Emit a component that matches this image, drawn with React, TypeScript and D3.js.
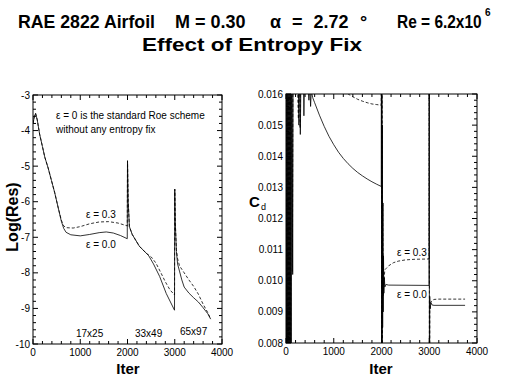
import React from "react";
import * as d3 from "d3";

// ---------- data ----------
// Left panel: Log(Res) vs Iter
const resEps00: [number, number][] = [
  [0, -3.8], [30, -3.6], [55, -3.52], [90, -3.7], [140, -4.1], [200, -4.45], [250, -4.75],
  [320, -5.05], [390, -5.4], [460, -5.75], [530, -6.15], [600, -6.55], [650, -6.75], [700, -6.86],
  [800, -6.93], [1000, -6.96], [1200, -6.92], [1400, -6.87], [1550, -6.85], [1700, -6.88],
  [1850, -6.95], [1995, -7.04], [2000, -4.85], [2015, -6.0], [2040, -6.7], [2100, -6.92],
  [2250, -7.25], [2450, -7.52], [2550, -7.75], [2680, -8.1], [2820, -8.58], [2995, -9.05],
  [3000, -5.65], [3012, -6.6], [3035, -7.4], [3060, -7.75], [3100, -7.95], [3150, -8.2],
  [3200, -8.4], [3300, -8.57], [3400, -8.7], [3500, -8.82], [3600, -8.98], [3700, -9.15], [3760, -9.3],
];
const resEps03: [number, number][] = [
  [0, -3.8], [30, -3.6], [55, -3.52], [90, -3.7], [140, -4.1], [200, -4.45], [250, -4.75],
  [320, -5.05], [390, -5.4], [460, -5.75], [530, -6.15], [600, -6.52], [650, -6.68], [700, -6.73],
  [850, -6.74], [1000, -6.7], [1200, -6.62], [1400, -6.57], [1600, -6.56], [1800, -6.6],
  [1995, -6.68], [2000, -4.85], [2015, -6.0], [2040, -6.7], [2100, -6.92], [2250, -7.25],
  [2400, -7.45], [2500, -7.55], [2600, -7.72], [2700, -7.98], [2800, -8.25], [2900, -8.48],
  [2995, -8.62], [3000, -5.65], [3012, -6.6], [3035, -7.35], [3060, -7.6], [3100, -7.8],
  [3150, -7.9], [3200, -8.0], [3300, -8.2], [3400, -8.38], [3500, -8.6], [3600, -8.88],
  [3700, -9.12], [3760, -9.3],
];

// Right panel: Cd vs Iter
const cdEps00: [number, number][] = [
  [0, 0.021], [10, 0.003], [20, 0.021], [30, 0.003], [40, 0.021], [50, 0.003], [60, 0.021],
  [70, 0.003], [80, 0.021], [90, 0.003], [100, 0.021], [110, 0.006], [120, 0.021],
  [140, 0.0102], [155, 0.021], [250, 0.0175],
  [270, 0.015], [285, 0.0175], [300, 0.0147], [318, 0.0172], [340, 0.016], [360, 0.017],
  [375, 0.0153], [392, 0.0168], [410, 0.016], [440, 0.0166], [480, 0.0158], [500, 0.0163],
  [515, 0.0156], [530, 0.0161], [560, 0.01588], [600, 0.01572], [700, 0.01532], [800, 0.01496],
  [900, 0.01464], [1000, 0.01437], [1100, 0.01413], [1200, 0.01393], [1300, 0.01376],
  [1400, 0.01361], [1500, 0.01348], [1600, 0.01337], [1700, 0.01327], [1800, 0.01318],
  [1900, 0.0131], [1995, 0.01303], [2000, 0.03], [2003, 0.0], [2008, 0.02], [2012, 0.006],
  [2018, 0.015], [2024, 0.0085], [2030, 0.0125], [2036, 0.009], [2042, 0.0108], [2050, 0.0096],
  [2060, 0.0101], [2070, 0.0098], [2090, 0.00988], [2150, 0.00986], [2995, 0.00985],
  [3000, 0.03], [3004, 0.0], [3010, 0.0095], [3020, 0.0091], [3035, 0.0093], [3060, 0.00922],
  [3100, 0.00921], [3750, 0.00921],
];
const cdEps03: [number, number][] = [
  [5, 0.021], [15, 0.003], [25, 0.021], [35, 0.003], [45, 0.021], [55, 0.003], [65, 0.021],
  [75, 0.003], [85, 0.021], [95, 0.003], [105, 0.021],
  [135, 0.0103], [150, 0.021], [260, 0.0152], [280, 0.021], [295, 0.0149],
  [312, 0.021], [600, 0.0178], [1000, 0.0166], [1300, 0.016], [1400, 0.01591], [1500, 0.01583],
  [1600, 0.01577], [1700, 0.01572], [1800, 0.01568], [1900, 0.01566], [1995, 0.01564],
  [2000, 0.03], [2003, 0.0], [2008, 0.02], [2015, 0.007], [2025, 0.0125], [2035, 0.0095],
  [2050, 0.01], [2070, 0.01035], [2100, 0.0104], [2150, 0.01048], [2250, 0.01058],
  [2350, 0.01063], [2500, 0.01067], [2700, 0.01069], [2995, 0.0107], [3000, 0.03], [3004, 0.0],
  [3012, 0.0092], [3030, 0.0093], [3060, 0.00937], [3100, 0.0094], [3200, 0.00941],
  [3750, 0.00941],
];

const xTickValues = [0, 1000, 2000, 3000, 4000];
const resTickValues = [-10, -9, -8, -7, -6, -5, -4, -3];
const cdTickValues = [0.008, 0.009, 0.01, 0.011, 0.012, 0.013, 0.014, 0.015, 0.016];

const FONT = "'Liberation Sans', Arial, Helvetica, sans-serif";

type Sc = d3.ScaleLinear<number, number>;

function Frame({ x, y, xMinor, yMinor, id, xFmt, yFmt, yTicks }: {
  x: Sc; y: Sc; xMinor: number; yMinor: number; id: string;
  xFmt: (v: number) => string; yFmt: (v: number) => string; yTicks: number[];
}) {
  const [x0, x1] = x.range();
  const [y0, y1] = y.range(); // y0 bottom, y1 top
  const xd = x.domain();
  const yd = y.domain();
  const xm = d3.range(xd[0], xd[1] + 1e-9, xMinor);
  const ym = d3.range(0, Math.round((yd[1] - yd[0]) / yMinor) + 1).map((i) => yd[0] + i * yMinor);
  const MAJ = 5, MIN = 3;
  const isMajX = (v: number) => Math.abs(v / 1000 - Math.round(v / 1000)) < 1e-6;
  const isMajY = (v: number) => yTicks.some((t) => Math.abs(t - v) < yMinor / 10);
  return (
    <g>
      <rect x={x0} y={y1} width={x1 - x0} height={y0 - y1} fill="none" stroke="#000" strokeWidth={1} />
      {xm.map((v, i) => {
        const L = isMajX(v) ? MAJ : MIN;
        const px = x(v);
        return (
          <g key={"xt" + i}>
            <line x1={px} x2={px} y1={y0} y2={y0 - L} stroke="#000" />
            <line x1={px} x2={px} y1={y1} y2={y1 + L} stroke="#000" />
          </g>
        );
      })}
      {ym.map((v, i) => {
        const L = isMajY(v) ? MAJ : MIN;
        const py = y(v);
        return (
          <g key={"yt" + i}>
            <line x1={x0} x2={x0 + L} y1={py} y2={py} stroke="#000" />
            <line x1={x1} x2={x1 - L} y1={py} y2={py} stroke="#000" />
          </g>
        );
      })}
      {xTickValues.map((v) => (
        <text key={"xl" + v} x={x(v)} y={y0 + 12} fontSize={10} textAnchor="middle" fontFamily={FONT}>
          {xFmt(v)}
        </text>
      ))}
      {yTicks.map((v) => (
        <text key={"yl" + v} x={x0 - 3} y={y(v)} dy="0.35em" fontSize={10} textAnchor="end" fontFamily={FONT}>
          {yFmt(v)}
        </text>
      ))}
      <clipPath id={id}>
        <rect x={x0} y={y1} width={x1 - x0} height={y0 - y1} />
      </clipPath>
    </g>
  );
}

export default function App() {
  const xL = d3.scaleLinear().domain([0, 4000]).range([33, 222]);
  const yL = d3.scaleLinear().domain([-10, -3]).range([344, 95]);
  const xR = d3.scaleLinear().domain([0, 4000]).range([286, 477]);
  const yR = d3.scaleLinear().domain([0.008, 0.016]).range([343, 94]);

  const lineL = d3.line<[number, number]>().x((d) => xL(d[0])).y((d) => yL(d[1]));
  const lineR = d3.line<[number, number]>().x((d) => xR(d[0])).y((d) => yR(d[1]));

  return (
    <svg width={507} height={380} style={{ position: "absolute", left: 0, top: 0, background: "#fff" }}
      fontFamily={FONT}>
      <rect width={507} height={380} fill="#fff" />
      {/* Title */}
      <g fontWeight="bold" fontSize={18}>
        <text x={18} y={28} textLength={137} lengthAdjust="spacingAndGlyphs">RAE 2822 Airfoil</text>
        <text x={175} y={28}>M = 0.30</text>
        <text x={270} y={28} wordSpacing={6}>α = 2.72</text>
        <text x={360} y={28}>°</text>
        <text transform="translate(397,28) scale(0.86,1)">Re = 6.2x10</text>
        <text x={485} y={16} fontSize={10}>6</text>
        <text x={142} y={51} fontSize={19} textLength={220} lengthAdjust="spacingAndGlyphs">Effect of Entropy Fix</text>
      </g>

      {/* Left panel */}
      <Frame x={xL} y={yL} xMinor={200} yMinor={0.2} id="clipL" xFmt={(v) => String(v)}
        yFmt={(v) => String(v)} yTicks={resTickValues} />
      <g clipPath="url(#clipL)" fill="none" stroke="#000" strokeWidth={0.8}>
        <path d={lineL(resEps03) || ""} strokeDasharray="3,2" />
        <path d={lineL(resEps00) || ""} />
      </g>
      <text x={128} y={374} textAnchor="middle" fontWeight="bold" fontSize={15}>Iter</text>
      <text transform="translate(18,217) rotate(-90)" textAnchor="middle" fontWeight="bold" fontSize={16}>
        Log(Res)
      </text>
      <g fontSize={10}>
        <text x={56} y={119}>ε = 0 is the standard Roe scheme</text>
        <text x={56} y={133}>without any entropy fix</text>
        <text x={86} y={218}>ε = 0.3</text>
        <text x={86} y={248}>ε = 0.0</text>
        <text x={76} y={337}>17x25</text>
        <text x={135} y={337}>33x49</text>
        <text x={180} y={335}>65x97</text>
      </g>

      {/* Right panel */}
      <Frame x={xR} y={yR} xMinor={200} yMinor={0.0002} id="clipR" xFmt={(v) => String(v)}
        yFmt={(v) => v.toFixed(3)} yTicks={cdTickValues} />
      <g clipPath="url(#clipR)" fill="none" stroke="#000" strokeWidth={0.8}>
        <path d={lineR(cdEps03) || ""} strokeDasharray="3,2" />
        <path d={lineR(cdEps00) || ""} />
      </g>
      <text x={381} y={374} textAnchor="middle" fontWeight="bold" fontSize={15}>Iter</text>
      <text x={249} y={207} fontWeight="bold" fontSize={15}>C</text>
      <text x={261} y={210} fontSize={9}>d</text>
      <g fontSize={10}>
        <text x={397} y={256}>ε = 0.3</text>
        <text x={397} y={298}>ε = 0.0</text>
      </g>
    </svg>
  );
}
